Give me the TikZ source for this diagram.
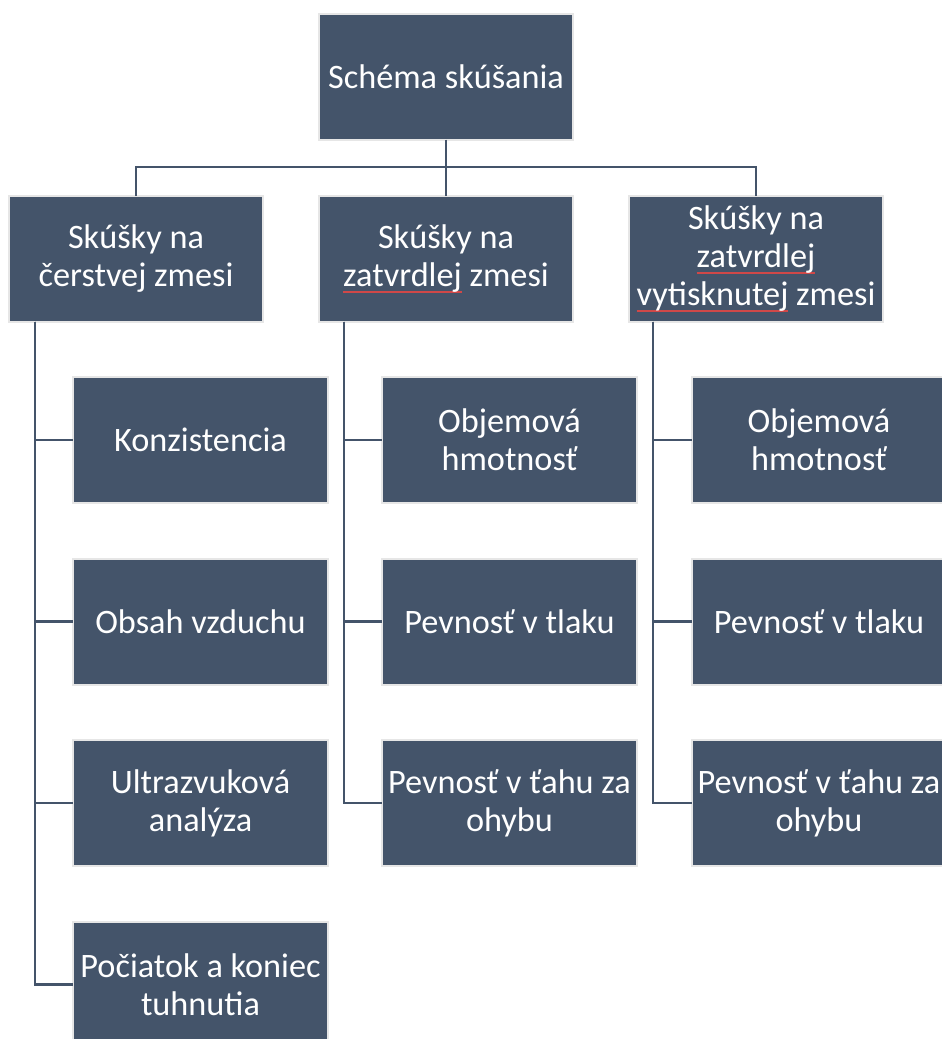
\documentclass[tikz,border=0pt]{standalone}
\usepackage{fontspec}
\setmainfont{Carlito}
\definecolor{slate}{HTML}{44546A}
\definecolor{rim}{HTML}{E6E6E6}
\definecolor{spell}{HTML}{D04848}
\newlength\rulw
\newcommand{\redul}[1]{\settowidth{\rulw}{#1}\rlap{\color{spell}\rule[-5pt]{\rulw}{1pt}}#1}
\tikzset{
  box/.style={draw=rim, line width=1.5pt, fill=slate, text=white,
    minimum width=191pt, minimum height=94.5pt, inner sep=2pt, outer sep=0pt,
    align=center, font=\fontsize{25.7pt}{28.5pt}\selectfont},
  link/.style={draw=slate, line width=1.7pt}
}
\begin{document}
\begin{tikzpicture}[x=0.75pt,y=-0.75pt]
\useasboundingbox (0,0) rectangle (942,1039);
\clip (0,0) rectangle (942,1039);
\fill[white] (0,0) rectangle (942,1039);
% top
\node[box] (top) at (446,76.5) {Schéma skúšania};
% level 1
\node[box] (b1) at (136,258.5) {Skúšky na\\čerstvej zmesi};
\node[box] (b2) at (446,258.5) {Skúšky na\\\redul{zatvrdlej} zmesi};
\node[box] (b3) at (756,258.5) {Skúšky na\\\redul{zatvrdlej}\\\redul{vytisknutej} zmesi};
% column 1
\node[box] (c11) at (200.5,440) {Konzistencia};
\node[box] (c12) at (200.5,621.5) {Obsah vzduchu};
\node[box] (c13) at (200.5,803) {Ultrazvuková\\analýza};
\node[box] (c14) at (200.5,984.5) {Počiatok a koniec\\tuhnutia};
% column 2
\node[box] (c21) at (509.5,440) {Objemová\\hmotnosť};
\node[box] (c22) at (509.5,621.5) {Pevnosť v tlaku};
\node[box] (c23) at (509.5,803) {Pevnosť v ťahu za\\ohybu};
% column 3
\node[box] (c31) at (819,440) {Objemová\\hmotnosť};
\node[box] (c32) at (819,621.5) {Pevnosť v tlaku};
\node[box] (c33) at (819,803) {Pevnosť v ťahu za\\ohybu};
% connectors top
\coordinate (j) at (446,167);
\draw[link] (top.south) -- (b2.north);
\draw[link] (j) -| (b1.north);
\draw[link] (j) -| (b3.north);
% connectors columns
\coordinate (v1) at ([xshift=19.5pt]b1.south west);
\coordinate (v2) at ([xshift=19pt]b2.south west);
\coordinate (v3) at ([xshift=18pt]b3.south west);
\draw[link] (v1) |- (c11.west);
\draw[link] (v1) |- (c12.west);
\draw[link] (v1) |- (c13.west);
\draw[link] (v1) |- (c14.west);
\draw[link] (v2) |- (c21.west);
\draw[link] (v2) |- (c22.west);
\draw[link] (v2) |- (c23.west);
\draw[link] (v3) |- (c31.west);
\draw[link] (v3) |- (c32.west);
\draw[link] (v3) |- (c33.west);
\end{tikzpicture}
\end{document}
